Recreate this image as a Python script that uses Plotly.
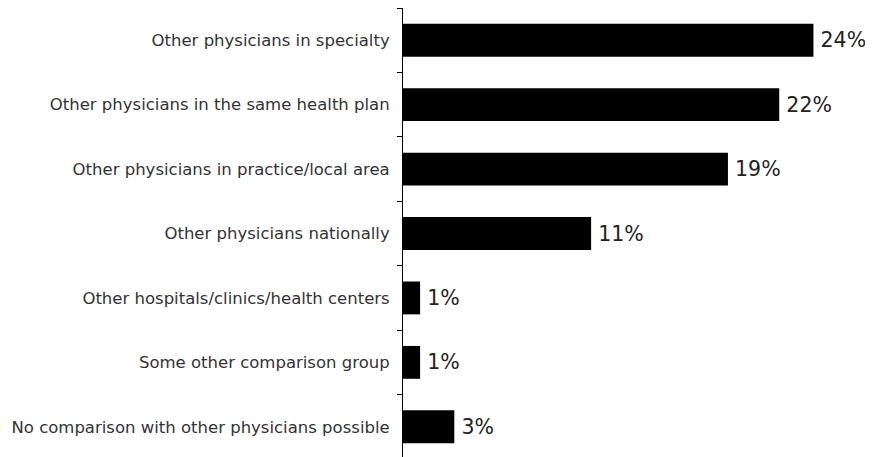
import plotly.graph_objects as go

categories = [
    "Other physicians in specialty",
    "Other physicians in the same health plan",
    "Other physicians in practice/local area",
    "Other physicians nationally",
    "Other hospitals/clinics/health centers",
    "Some other comparison group",
    "No comparison with other physicians possible",
]
values = [24, 22, 19, 11, 1, 1, 3]
value_labels = [f"\u2009{v}%" for v in values]

fig = go.Figure(go.Bar(
    x=values,
    y=categories,
    orientation="h",
    marker=dict(color="#000000", line=dict(width=0)),
    text=value_labels,
    textposition="outside",
    textfont=dict(family="DejaVu Sans", size=20.5, color="#222222"),
    cliponaxis=False,
))

fig.update_layout(
    width=873,
    height=457,
    margin=dict(l=395, r=0, t=0, b=5.5, autoexpand=False),
    paper_bgcolor="white",
    plot_bgcolor="white",
    showlegend=False,
    bargap=0.49,
    font=dict(family="DejaVu Sans", size=16.5, color="#333333"),
)
fig.update_xaxes(
    range=[0, 27.95],
    visible=False,
    showgrid=False,
    zeroline=False,
    automargin=False,
)
fig.update_yaxes(
    type="category",
    autorange="reversed",
    showline=True,
    linecolor="#000000",
    linewidth=1,
    ticks="outside",
    tickson="boundaries",
    ticklen=5,
    tickcolor="#000000",
    ticklabelstandoff=9,
    showgrid=False,
    automargin=False,
    tickfont=dict(family="DejaVu Sans", size=16.5, color="#333333"),
)

fig.write_html("out.html")
